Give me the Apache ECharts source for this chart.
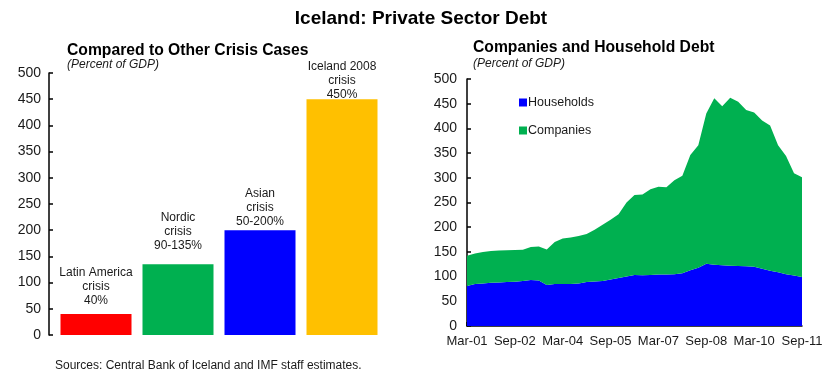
<!DOCTYPE html>
<html>
<head>
<meta charset="utf-8">
<script src="https://cdn.jsdelivr.net/npm/echarts@6/dist/echarts.min.js"></script>
<style>
  html, body { margin: 0; padding: 0; background: #fff; }
  #chart { width: 825px; height: 375px; }
</style>
</head>
<body>
<div id="chart"></div>
<script>
// Left panel: private sector debt in past crisis episodes (percent of GDP)
const crisisNames = ['Latin America\ncrisis\n40%', 'Nordic\ncrisis\n90-135%', 'Asian\ncrisis\n50-200%', 'Iceland 2008\ncrisis\n450%'];
const crisisValues = [40, 135, 200, 450];
const crisisColors = ['#FF0000', '#00B050', '#0000FF', '#FFC000'];
const crisisLabelGap = [6, 12, 2, -2];

// Right panel: quarterly debt of households and companies (percent of GDP)
const quarters = [
  'Mar-01', 'Jun-01', 'Sep-01', 'Dec-01',
  'Mar-02', 'Jun-02', 'Sep-02', 'Dec-02',
  'Mar-03', 'Jun-03', 'Sep-03', 'Dec-03',
  'Mar-04', 'Jun-04', 'Sep-04', 'Dec-04',
  'Mar-05', 'Jun-05', 'Sep-05', 'Dec-05',
  'Mar-06', 'Jun-06', 'Sep-06', 'Dec-06',
  'Mar-07', 'Jun-07', 'Sep-07', 'Dec-07',
  'Mar-08', 'Jun-08', 'Sep-08', 'Dec-08',
  'Mar-09', 'Jun-09', 'Sep-09', 'Dec-09',
  'Mar-10', 'Jun-10', 'Sep-10', 'Dec-10',
  'Mar-11', 'Jun-11', 'Sep-11'
];
const households = [
  81, 85, 86, 87.5, 88, 89, 89.5, 91, 93, 92, 83,
  85, 85, 85, 86, 89, 90, 91, 94, 97, 100, 103,
  102.5, 103, 104, 104, 105, 107, 113, 118, 126, 124,
  123, 122, 121.5, 121, 120, 116, 112, 109, 105, 102, 99
];
const companies = [
  61, 62, 64, 64.5, 65, 64.5, 64.5, 63.5, 67, 69, 72,
  85, 92, 94, 96, 97, 105, 114, 121, 129, 150, 162,
  163.5, 174, 178, 177, 190, 197, 233, 248, 304, 337,
  322, 340, 332.5, 316, 312, 300, 294, 257, 239, 207, 202
];

const FONT = '"Liberation Sans", Arial, Helvetica, sans-serif';
const INK = '#1a1a1a';

const chart = echarts.init(document.getElementById('chart'), null, { renderer: 'canvas' });

const barData = crisisValues.map((v, i) => ({
  value: v,
  itemStyle: { color: crisisColors[i] },
  label: { distance: crisisLabelGap[i] }
}));

chart.setOption({
  animation: false,
  backgroundColor: '#ffffff',
  textStyle: { fontFamily: FONT },
  title: [
    {
      text: 'Iceland: Private Sector Debt',
      left: 421, top: 9, textAlign: 'center', padding: 0,
      textStyle: { fontFamily: FONT, fontSize: 19, fontWeight: 'bold', color: '#000' }
    },
    {
      text: 'Compared to Other Crisis Cases',
      left: 67, top: 43, padding: 0,
      textStyle: { fontFamily: FONT, fontSize: 15.7, fontWeight: 'bold', color: '#000' }
    },
    {
      text: '(Percent of GDP)',
      left: 67, top: 59, padding: 0,
      textStyle: { fontFamily: FONT, fontSize: 12, fontStyle: 'italic', fontWeight: 'normal', color: INK }
    },
    {
      text: 'Companies and Household Debt',
      left: 473, top: 40, padding: 0,
      textStyle: { fontFamily: FONT, fontSize: 15.7, fontWeight: 'bold', color: '#000' }
    },
    {
      text: '(Percent of GDP)',
      left: 473, top: 58, padding: 0,
      textStyle: { fontFamily: FONT, fontSize: 12, fontStyle: 'italic', fontWeight: 'normal', color: INK }
    },
    {
      text: 'Sources: Central Bank of Iceland and IMF staff estimates.',
      left: 55, top: 360, padding: 0,
      textStyle: { fontFamily: FONT, fontSize: 12, fontWeight: 'normal', color: INK }
    }
  ],
  legend: {
    data: ['Households', 'Companies'],
    orient: 'vertical',
    left: 519, top: 96, padding: 0,
    itemWidth: 8, itemHeight: 8, itemGap: 15,
    icon: 'rect',
    selectedMode: false,
    textStyle: { fontFamily: FONT, fontSize: 12.5, color: INK, padding: [0, 0, 0, -4] }
  },
  grid: [
    { left: 55, top: 73, width: 328, height: 262, outerBoundsMode: 'none' },
    { left: 467, top: 79, width: 335, height: 247, outerBoundsMode: 'none' }
  ],
  xAxis: [
    {
      gridIndex: 0, type: 'category', data: crisisNames,
      axisLine: { show: false }, axisTick: { show: false }, axisLabel: { show: false }
    },
    {
      gridIndex: 1, type: 'category', data: quarters, boundaryGap: false,
      axisLine: { show: true, lineStyle: { color: '#000', width: 1.5 } },
      axisTick: { show: true, inside: true, length: 4, interval: 11, lineStyle: { color: '#000', width: 1.5 } },
      axisLabel: { interval: 5, fontFamily: FONT, fontSize: 13, color: INK, margin: 9 },
      splitLine: { show: false }
    }
  ],
  yAxis: [
    {
      gridIndex: 0, type: 'value', min: 0, max: 500, interval: 50, offset: 6,
      axisLine: { show: true, lineStyle: { color: '#000', width: 1.5 } },
      axisTick: { show: true, inside: true, length: 4, lineStyle: { color: '#000', width: 1.5 } },
      axisLabel: { fontFamily: FONT, fontSize: 14, color: INK, margin: 8 },
      splitLine: { show: false }
    },
    {
      gridIndex: 1, type: 'value', min: 0, max: 500, interval: 50,
      axisLine: { show: true, lineStyle: { color: '#000', width: 1.5 } },
      axisTick: { show: true, inside: true, length: 4, lineStyle: { color: '#000', width: 1.5 } },
      axisLabel: { fontFamily: FONT, fontSize: 14, color: INK, margin: 10 },
      splitLine: { show: false }
    }
  ],
  series: [
    {
      type: 'bar', xAxisIndex: 0, yAxisIndex: 0,
      data: barData, barWidth: 71,
      label: {
        show: true, position: 'top',
        formatter: p => crisisNames[p.dataIndex],
        fontFamily: FONT, fontSize: 12, lineHeight: 14, color: INK, align: 'center'
      },
      silent: true
    },
    {
      name: 'Households', type: 'line', xAxisIndex: 1, yAxisIndex: 1,
      data: households, stack: 'debt', symbol: 'none',
      lineStyle: { width: 0 }, itemStyle: { color: '#0000FF' },
      areaStyle: { color: '#0000FF', opacity: 1 }, silent: true
    },
    {
      name: 'Companies', type: 'line', xAxisIndex: 1, yAxisIndex: 1,
      data: companies, stack: 'debt', symbol: 'none',
      lineStyle: { width: 0 }, itemStyle: { color: '#00B050' },
      areaStyle: { color: '#00B050', opacity: 1 }, silent: true
    }
  ]
});
</script>
</body>
</html>
